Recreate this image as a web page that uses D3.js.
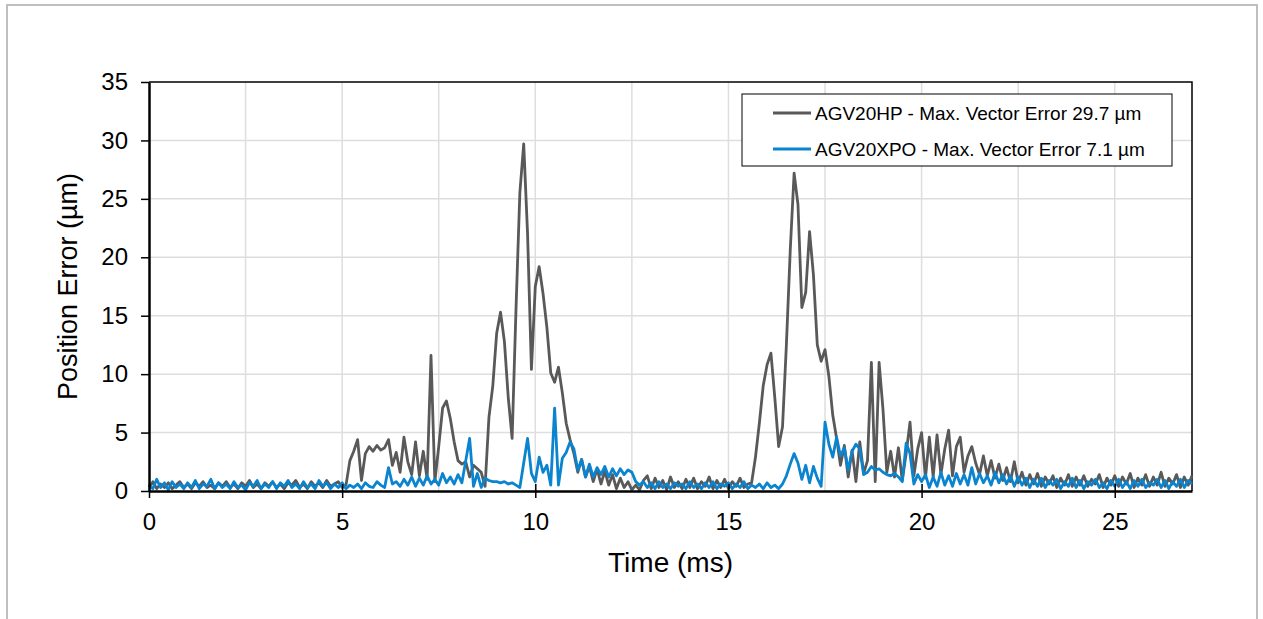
<!DOCTYPE html>
<html>
<head>
<meta charset="utf-8">
<script src="https://cdn.jsdelivr.net/npm/d3@7"></script>
<style>
  body { margin: 0; background: #fff; }
  svg { display: block; font-family: Arial, "Liberation Sans", sans-serif; }
</style>
</head>
<body>
<svg></svg>
<script>
// sample spacing of both traces (ms)
var timeStep = 0.1;

// AGV20HP position error (um), one value per 0.1 ms from 0 to 27 ms
var hpError = [
  0.3, 0.8, 0.2, 0.6, 0.3, 0.7, 0.2, 0.5, 0.8, 0.3,
  0.6, 0.2, 0.7, 0.4, 0.8, 0.3, 0.5, 0.2, 0.7, 0.4,
  0.8, 0.3, 0.6, 0.2, 0.7, 0.4, 0.9, 0.3, 0.6, 0.2,
  0.7, 0.4, 0.8, 0.3, 0.6, 0.2, 0.7, 0.5, 0.9, 0.3,
  0.6, 0.2, 0.8, 0.4, 0.7, 0.3, 0.9, 0.4, 0.6, 0.8,
  0.3, 0.5, 2.6, 3.4, 4.4, 0.9, 3.2, 3.8, 3.4, 3.9,
  3.5, 3.7, 4.4, 2.2, 3.3, 1.6, 4.6, 2.5, 1.4, 4.2,
  1.3, 3.4, 1.0, 11.6, 0.8, 3.8, 7.1, 7.7, 6.2, 4.2,
  2.6, 2.3, 2.5, 1.2, 2.2, 1.9, 1.6, 0.4, 6.3, 9.0,
  13.5, 15.3, 12.8, 8.0, 4.5, 15.5, 25.5, 29.7, 22.0, 10.4,
  17.5, 19.2, 16.9, 14.0, 10.1, 9.3, 10.6, 8.4, 5.8, 4.4,
  3.2, 1.6, 2.7, 1.2, 2.1, 0.8, 1.9, 0.6, 1.7, 0.5,
  1.4, 0.2, 1.1, 0.3, 0.8, 0.1, 0.5, 0.1, 0.9, 1.3,
  0.2, 1.1, 0.3, 0.9, 0.1, 1.2, 0.3, 0.8, 0.2, 1.0,
  0.3, 1.1, 0.2, 0.8, 0.4, 1.2, 0.2, 0.9, 0.3, 1.0,
  0.2, 0.8, 0.4, 1.1, 0.3, 0.6, 0.7, 2.9, 5.8, 9.0,
  10.8, 11.8, 8.0, 3.8, 5.5, 12.5, 20.6, 27.2, 24.5, 15.7,
  17.0, 22.2, 18.5, 12.5, 11.1, 12.1, 9.8, 6.5, 4.5, 2.2,
  3.9, 1.2, 3.5, 0.8, 4.2, 1.5, 2.6, 11.0, 0.8, 11.0,
  7.0, 1.6, 3.4, 1.2, 3.7, 0.9, 3.2, 5.9, 1.3, 3.6,
  5.0, 1.1, 4.6, 1.2, 4.8, 1.4, 3.6, 5.2, 1.3, 3.8,
  4.6, 1.6, 3.0, 3.8, 2.4, 1.4, 3.0, 1.3, 2.6, 1.1,
  2.3, 0.9, 2.0, 0.8, 2.5, 0.7, 1.6, 0.5, 1.4, 0.6,
  1.5, 0.4, 1.2, 0.6, 1.3, 0.3, 1.1, 0.5, 1.4, 0.4,
  1.2, 0.5, 1.3, 0.4, 1.0, 0.6, 1.4, 0.3, 1.1, 0.5,
  1.3, 0.4, 1.2, 0.6, 1.5, 0.3, 1.1, 0.5, 1.4, 0.4,
  1.2, 0.5, 1.6, 0.4, 1.1, 0.6, 1.4, 0.3, 1.2, 0.5,
  1.3
];

// AGV20XPO position error (um), same time base
var xpoError = [
  0.5, 0.2, 1.0, 0.3, 0.7, 0.1, 0.8, 0.3, 0.6, 0.2,
  0.7, 0.3, 0.9, 0.2, 0.6, 0.4, 1.0, 0.2, 0.7, 0.3,
  0.6, 0.2, 0.8, 0.3, 0.5, 0.1, 0.7, 0.4, 0.9, 0.2,
  0.6, 0.3, 0.8, 0.2, 0.7, 0.4, 0.9, 0.3, 0.6, 0.2,
  0.8, 0.3, 0.6, 0.2, 0.9, 0.4, 0.7, 0.2, 0.6, 0.3,
  0.7, 0.2, 0.5, 0.3, 0.6, 0.2, 0.7, 0.4, 0.3, 0.8,
  0.5, 0.3, 2.0, 0.6, 0.8, 0.4, 1.0, 0.5, 1.2, 0.4,
  1.1, 0.5, 1.3, 0.6, 1.0, 0.5, 1.5, 0.7, 1.2, 0.6,
  1.4, 0.7, 2.6, 4.5, 0.4, 1.5, 0.3, 1.1, 0.9, 0.8,
  0.8, 0.7, 0.8, 0.6, 0.7, 0.5, 0.3, 2.4, 4.5, 1.5,
  0.8, 2.9, 1.6, 2.2, 0.5, 7.1, 0.5, 2.8, 3.3, 4.2,
  3.6, 1.8, 2.7, 1.2, 2.3, 1.2, 2.0, 1.4, 2.1, 1.2,
  1.9, 1.3, 1.9, 1.4, 1.8, 1.6, 0.8, 0.5, 0.8, 0.3,
  0.7, 0.2, 0.8, 0.3, 0.6, 0.2, 0.7, 0.4, 0.6, 0.2,
  0.8, 0.3, 0.6, 0.2, 0.7, 0.3, 0.8, 0.2, 0.6, 0.4,
  0.7, 0.2, 0.6, 0.3, 0.8, 0.2, 0.5, 0.3, 0.6, 0.2,
  0.7, 0.3, 0.5, 0.2, 0.6, 1.3, 2.3, 3.2, 2.4, 1.0,
  2.2, 0.7, 2.1, 1.1, 0.4, 5.9, 4.0, 2.9, 4.6, 3.0,
  3.7, 1.8, 3.4, 4.0, 3.6, 1.4, 1.6, 2.1, 1.8, 1.9,
  1.6, 1.4, 1.3, 1.5, 1.2, 0.8, 4.1, 3.2, 0.6, 1.4,
  0.8, 1.4, 0.3, 1.2, 0.4, 1.6, 0.5, 1.3, 0.4, 1.5,
  0.6, 1.4, 0.5, 2.0, 0.6, 1.5, 0.7, 1.3, 0.5, 1.6,
  0.7, 1.4, 0.6, 1.3, 0.4, 1.2, 0.5, 1.1, 0.3, 1.0,
  0.4, 1.1, 0.3, 0.9, 0.5, 1.0, 0.2, 0.8, 0.4, 1.1,
  0.3, 0.9, 0.2, 0.8, 0.5, 1.0, 0.3, 0.7, 0.2, 0.9,
  0.4, 1.0, 0.3, 0.8, 0.2, 0.9, 0.4, 1.0, 0.3, 0.7,
  0.5, 1.0, 0.3, 0.9, 0.2, 0.8, 0.4, 1.0, 0.3, 0.9,
  0.6
];

var seriesNames = ['AGV20HP - Max. Vector Error 29.7 \u00b5m', 'AGV20XPO - Max. Vector Error 7.1 \u00b5m'];
var seriesColors = ['#595959', '#0b84cf'];

var xTicks = [0, 5, 10, 15, 20, 25];
var xGrid = [2.5, 5, 7.5, 10, 12.5, 15, 17.5, 20, 22.5, 25];
var yTicks = [0, 5, 10, 15, 20, 25, 30, 35];

var width = 1263;
var height = 619;
var margin = {left: 149, right: 71, top: 82, bottom: 128};

var svg = d3.select('svg')
    .attr('width', width)
    .attr('height', height);

// outer chart frame
svg.append('rect')
    .attr('x', 7)
    .attr('y', 5)
    .attr('width', 1250)
    .attr('height', 640)
    .attr('fill', '#fff')
    .attr('stroke', '#bfbfbf')
    .attr('stroke-width', 2);

var xScale = d3.scaleLinear()
    .domain([0, 27])
    .range([margin.left, width - margin.right]);

var yScale = d3.scaleLinear()
    .domain([0, 35])
    .range([height - margin.bottom, margin.top]);

// gridlines
svg.append('g')
  .selectAll('line')
    .data(xGrid)
    .enter()
    .append('line')
      .attr('x1', d => xScale(d))
      .attr('x2', d => xScale(d))
      .attr('y1', yScale(0))
      .attr('y2', yScale(35))
      .attr('stroke', '#dedede')
      .attr('stroke-width', 1.5);

svg.append('g')
  .selectAll('line')
    .data(yTicks.slice(1, -1))
    .enter()
    .append('line')
      .attr('x1', xScale(0))
      .attr('x2', xScale(27))
      .attr('y1', d => yScale(d))
      .attr('y2', d => yScale(d))
      .attr('stroke', '#dedede')
      .attr('stroke-width', 1.5);

// plot area box (top + right edges)
svg.append('path')
    .attr('d', `M${xScale(0)},${yScale(35)}H${xScale(27)}V${yScale(0)}`)
    .attr('fill', 'none')
    .attr('stroke', '#000')
    .attr('stroke-width', 1.5);

// series lines
var line = d3.line()
    .x((d, i) => xScale(i * timeStep))
    .y(d => yScale(d));

svg.append('g')
  .selectAll('path')
    .data([hpError, xpoError])
    .enter()
    .append('path')
      .attr('d', d => line(d))
      .attr('fill', 'none')
      .attr('stroke', (d, i) => seriesColors[i])
      .attr('stroke-width', 2.8)
      .attr('stroke-linejoin', 'round');

// axes
var xAxis = d3.axisBottom(xScale)
    .tickValues(xTicks)
    .tickSize(7)
    .tickSizeOuter(0)
    .tickPadding(15);

var yAxis = d3.axisLeft(yScale)
    .tickValues(yTicks)
    .tickSize(8)
    .tickSizeOuter(0)
    .tickPadding(13);

var gx = svg.append('g')
    .attr('transform', `translate(0,${yScale(0)})`)
    .call(xAxis);
gx.selectAll('.tick line').attr('y1', -7).attr('stroke-width', 1.5);
gx.select('.domain').attr('stroke-width', 2.5);

var gy = svg.append('g')
    .attr('transform', `translate(${xScale(0)},0)`)
    .call(yAxis);
gy.selectAll('.tick line').attr('stroke-width', 1.5);
gy.select('.domain').attr('stroke-width', 2.5);

svg.selectAll('.tick text')
    .style('font-size', '24px')
    .style('font-family', 'Arial, "Liberation Sans", sans-serif')
    .attr('fill', '#000');

// axis titles
svg.append('text')
    .attr('x', (xScale(0) + xScale(27)) / 2)
    .attr('y', 572)
    .style('text-anchor', 'middle')
    .style('font-size', '28px')
    .text('Time (ms)');

svg.append('text')
    .attr('transform', 'rotate(-90)')
    .attr('x', -(yScale(0) + yScale(35)) / 2)
    .attr('y', 77)
    .style('text-anchor', 'middle')
    .style('font-size', '27px')
    .text('Position Error (\u00b5m)');

// legend
var legend = svg.append('g')
    .attr('transform', 'translate(742,94)');

legend.append('rect')
    .attr('width', 430)
    .attr('height', 72)
    .attr('fill', '#fff')
    .attr('stroke', '#000')
    .attr('stroke-width', 1);

var legendItem = legend.selectAll('g.item')
    .data(seriesNames)
    .enter()
    .append('g')
      .attr('class', 'item')
      .attr('transform', (d, i) => `translate(0,${19 + i * 36})`);

legendItem.append('line')
    .attr('x1', 31)
    .attr('x2', 69)
    .attr('stroke', (d, i) => seriesColors[i])
    .attr('stroke-width', 2.8);

legendItem.append('text')
    .attr('x', 73)
    .attr('dy', '0.35em')
    .style('font-size', '19px')
    .text(d => d);
</script>
</body>
</html>
